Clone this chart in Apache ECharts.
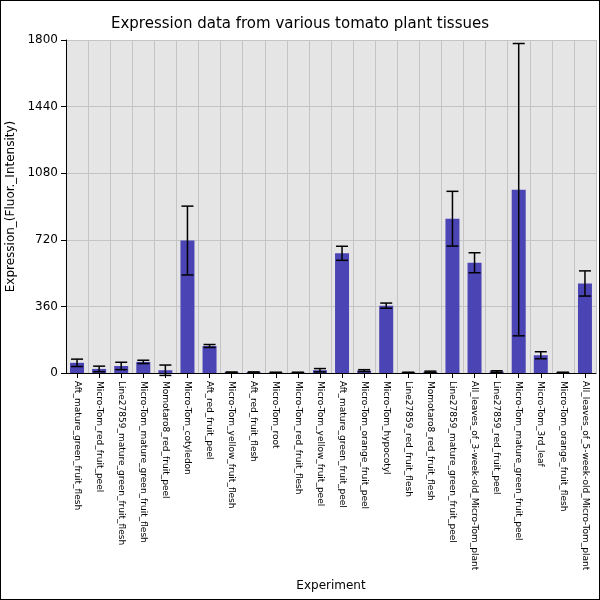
<!DOCTYPE html>
<html>
<head>
<meta charset="utf-8">
<script src="https://cdn.jsdelivr.net/npm/echarts@6/dist/echarts.min.js"></script>
<style>
html,body{margin:0;padding:0;background:#fff;}
#charts-box{width:598px;height:598px;border:1px solid #000;}
</style>
</head>
<body>
<div id="charts-box"></div>
<script>
var app = echarts.init(document.getElementById('charts-box'));

// 组织名称 / 表达量 / 误差
var tissues = ['Aft_mature_green_fruit_flesh', 'Micro-Tom_red_fruit_peel', 'Line27859_mature_green_fruit_flesh',
    'Micro-Tom_mature_green_fruit_flesh', 'Momotaro8_red_fruit_peel', 'Micro-Tom_cotyledon', 'Aft_red_fruit_peel',
    'Micro-Tom_yellow_fruit_flesh', 'Aft_red_fruit_flesh', 'Micro-Tom_root', 'Micro-Tom_red_fruit_flesh',
    'Micro-Tom_yellow_fruit_peel', 'Aft_mature_green_fruit_peel', 'Micro-Tom_orange_fruit_peel', 'Micro-Tom_hypocotyl',
    'Line27859_red_fruit_flesh', 'Momotaro8_red_fruit_flesh', 'Line27859_mature_green_fruit_peel',
    'All_leaves_of_3-week-old_Micro-Tom_plant', 'Line27859_red_fruit_peel', 'Micro-Tom_mature_green_fruit_peel',
    'Micro-Tom_3rd_leaf', 'Micro-Tom_orange_fruit_flesh', 'All_leaves_of_5-week-old_Micro-Tom_plant'];
var vals = [55, 22, 38, 60, 15, 716, 146, 4, 4, 3, 3, 15, 647, 13, 364, 3, 6, 834, 596, 8, 991, 96, 3, 484];
var errs = [20, 15, 20, 9, 28, 186, 8, 1, 2, 1, 1, 9, 38, 5, 14, 1, 4, 148, 54, 4, 790, 19, 1, 68];

var errData = [];
for (var i = 0; i < vals.length; i++) {
    errData.push([i, vals[i] - errs[i], vals[i] + errs[i]]);
}

var option = {
    backgroundColor: '#fff',
    title: {
        text: 'Expression data from various tomato plant tissues',
        left: 'center',
        top: 11,
        textStyle: {fontSize: 15, fontWeight: 'normal', color: '#000', fontFamily: 'DejaVu Sans'}
    },
    grid: {left: 65, right: 3, top: 39, bottom: 226, show: true, backgroundColor: '#e5e5e5', borderWidth: 0,
        outerBoundsMode: 'none', containLabel: false},
    xAxis: {
        type: 'category',
        data: tissues,
        name: 'Experiment',
        nameLocation: 'middle',
        nameGap: 207,
        nameTextStyle: {fontSize: 12, color: '#000', fontFamily: 'DejaVu Sans'},
        axisLine: {lineStyle: {color: '#000'}},
        axisTick: {show: true, alignWithLabel: true, lineStyle: {color: '#000'}},
        splitLine: {show: true, interval: 0, lineStyle: {color: '#c4c4c4'}},
        axisLabel: {rotate: -90, interval: 0, fontSize: 9, color: '#000', fontFamily: 'DejaVu Sans'}
    },
    yAxis: {
        type: 'value',
        min: 0,
        max: 1800,
        interval: 360,
        name: 'Expression_(Fluor._Intensity)',
        nameLocation: 'middle',
        nameGap: 46,
        nameTextStyle: {fontSize: 12, color: '#000', fontFamily: 'DejaVu Sans'},
        axisLine: {show: true, lineStyle: {color: '#000'}},
        axisTick: {show: true, lineStyle: {color: '#000'}},
        splitLine: {lineStyle: {color: '#c4c4c4'}},
        axisLabel: {fontSize: 12, color: '#000', fontFamily: 'DejaVu Sans', formatter: function(v) { return String(v); }}
    },
    series: [{
        type: 'bar',
        data: vals,
        barWidth: 14,
        itemStyle: {color: '#4b44b4'}
    }, {
        type: 'custom',
        data: errData,
        z: 10,
        renderItem: function(params, api) {
            var x = api.value(0);
            var lo = api.coord([x, api.value(1)]);
            var hi = api.coord([x, api.value(2)]);
            var w = 6;
            var st = {stroke: '#000', lineWidth: 1.5};
            return {
                type: 'group',
                children: [
                    {type: 'line', shape: {x1: lo[0], y1: lo[1], x2: hi[0], y2: hi[1]}, style: st},
                    {type: 'line', shape: {x1: lo[0] - w, y1: lo[1], x2: lo[0] + w, y2: lo[1]}, style: st},
                    {type: 'line', shape: {x1: hi[0] - w, y1: hi[1], x2: hi[0] + w, y2: hi[1]}, style: st}
                ]
            };
        }
    }]
};

app.setOption(option);
</script>
</body>
</html>
